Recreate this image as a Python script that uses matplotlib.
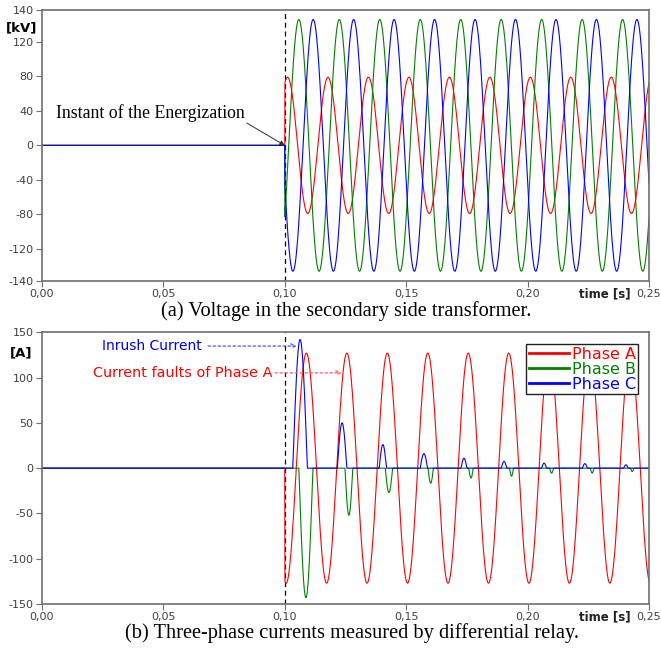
"""
Transformer energization: secondary voltages and differential relay currents
"""

import numpy as np
import matplotlib
matplotlib.use("Agg")
import matplotlib.pyplot as plt

plt.rcParams["axes.unicode_minus"] = False

# ---- data ----
T_END = 0.25
T_ENERG = 0.10          # instant of energization [s]
F_HZ = 60.0

phase_names = ["Phase A", "Phase B", "Phase C"]
phase_colors = ["#ff0000", "#008000", "#0000ff"]

# secondary voltages [kV]: amplitude and time of one positive peak
v_amp = [79, 146, 146]
v_peak_t = [0.1178, 0.1058, 0.1117]

# fault current phase A [A]
ia_amp = 127
ia_peak_t = 0.1089

# inrush pulses: phase C (positive) and phase B (negative)
ic_peak_t = [0.1063, 0.1236, 0.1404, 0.1573, 0.1738, 0.1903, 0.2068, 0.2236, 0.2405]
ic_peak = [142, 50, 26, 16, 11, 7.5, 5.5, 5, 3.7]
ic_width = [0.0060, 0.0039, 0.0030, 0.0030, 0.0024, 0.0022, 0.0020, 0.0020, 0.0018]

ib_peak_t = [0.1087, 0.1264, 0.1429, 0.1601, 0.1767, 0.1934, 0.2099, 0.2266, 0.2431]
ib_peak = [-143, -52, -27, -16.6, -11, -8.8, -5.5, -5.5, -3.7]
ib_width = [0.0058, 0.0032, 0.0030, 0.0022, 0.0018, 0.0016, 0.0016, 0.0015, 0.0014]

x_ticks = [0.00, 0.05, 0.10, 0.15, 0.20, 0.25]
x_ticklabels = ["0,00", "0,05", "0,10", "0,15", "0,20", "0,25"]
v_ylim = 157
v_ticks = [-157, -120, -80, -40, 0, 40, 80, 120, 157]
v_ticklabels = ["-140", "-120", "-80", "-40", "0", "40", "80", "120", "140"]
i_ticks = [-150, -100, -50, 0, 50, 100, 150]


def sine_after(t, amp, tpk):
    y = amp * np.cos(2 * np.pi * F_HZ * (t - tpk))
    y[t < T_ENERG] = 0.0
    return y


def pulses(t, times, peaks, widths):
    y = np.zeros_like(t)
    for tp, pk, w in zip(times, peaks, widths):
        m = np.abs(t - tp) < w / 2
        y[m] += pk * np.cos(np.pi * (t[m] - tp) / w)
    return y


def style_axes(ax):
    for s in ax.spines.values():
        s.set_color("#707070")
        s.set_linewidth(1.2)
    ax.tick_params(axis="both", colors="#707070", labelcolor="#404040",
                   labelsize=8, length=4, width=0.8, pad=2)
    ax.set_xlim(0, T_END)
    ax.set_xticks(x_ticks)
    ax.set_xticklabels(x_ticklabels)
    ax.axvline(T_ENERG, color="k", ls=(0, (4, 3)), lw=0.9, zorder=1)
    ax.text(0.969, -0.047, "time [s]", transform=ax.transAxes, ha="right",
            va="center", fontsize=8.5, fontweight="bold", color="#202020")


t = np.linspace(0, T_END, 6001)

fig = plt.figure(figsize=(6.61, 6.48), dpi=100)
ax1 = fig.add_axes([0.0635, 0.5668, 0.9183, 0.4178])
ax2 = fig.add_axes([0.0635, 0.0679, 0.9183, 0.4193])

# (a) voltages
for amp, tpk, c in zip(v_amp, v_peak_t, phase_colors):
    ax1.plot(t, sine_after(t, amp, tpk), color=c, lw=0.8, zorder=2)
style_axes(ax1)
ax1.set_ylim(-v_ylim, v_ylim)
ax1.set_yticks(v_ticks)
ax1.set_yticklabels(v_ticklabels)
ax1.text(-0.008, 0.933, "[kV]", transform=ax1.transAxes, ha="right",
         va="center", fontsize=9.5, fontweight="bold")
ax1.text(0.0058, 37.6, "Instant of the Energization", ha="left", va="center",
         fontsize=12.8, family="Liberation Serif")
ax1.annotate("", xy=(T_ENERG, 0), xytext=(0.0844, 25.8),
             arrowprops=dict(arrowstyle="-|>", color="#303030", lw=0.7,
                             mutation_scale=7, shrinkA=0, shrinkB=0))

# (b) currents
ia = sine_after(t, ia_amp, ia_peak_t)
ib = pulses(t, ib_peak_t, ib_peak, ib_width)
ic = pulses(t, ic_peak_t, ic_peak, ic_width)
for y, c, name in zip([ia, ib, ic], phase_colors, phase_names):
    ax2.plot(t, y, color=c, lw=0.8, label=name, zorder=2)
style_axes(ax2)
ax2.set_ylim(-150, 150)
ax2.set_yticks(i_ticks)
ax2.text(-0.015, 0.924, "[A]", transform=ax2.transAxes, ha="right",
         va="center", fontsize=9.5, fontweight="bold")

leg = ax2.legend(loc="upper right", bbox_to_anchor=(0.9824, 0.956),
                 borderaxespad=0, fontsize=11.5, labelcolor="linecolor",
                 handlelength=2.5, handletextpad=0.2, labelspacing=0.0,
                 borderpad=0.15, fancybox=False, framealpha=1,
                 edgecolor="#202020")
leg.get_frame().set_linewidth(1.0)
for h in leg.get_lines():
    h.set_linewidth(2.0)

ax2.text(0.0246, 134.8, "Inrush Current", color="#0000ee", fontsize=10,
         ha="left", va="center")
ax2.annotate("", xy=(0.1049, 134.8), xytext=(0.0684, 134.8),
             arrowprops=dict(arrowstyle="->", color="#5050ff", lw=0.9,
                             ls=(0, (2, 2)), mutation_scale=8,
                             shrinkA=0, shrinkB=0))
ax2.text(0.0209, 105.2, "Current faults of Phase A", color="#ff0000",
         fontsize=10.4, ha="left", va="center")
ax2.annotate("", xy=(0.1234, 105.2), xytext=(0.0960, 105.2),
             arrowprops=dict(arrowstyle="->", color="#ff6060", lw=0.9,
                             ls=(0, (2, 2)), mutation_scale=8,
                             shrinkA=0, shrinkB=0))

# captions
fig.text(0.523, 1 - 311 / 648, "(a) Voltage in the secondary side transformer.",
         ha="center", va="center", fontsize=14.7, family="Liberation Serif")
fig.text(0.532, 1 - 633 / 648,
         "(b) Three-phase currents measured by differential relay.",
         ha="center", va="center", fontsize=14.7, family="Liberation Serif")

fig.savefig("out.png", dpi=100)
plt.close(fig)
